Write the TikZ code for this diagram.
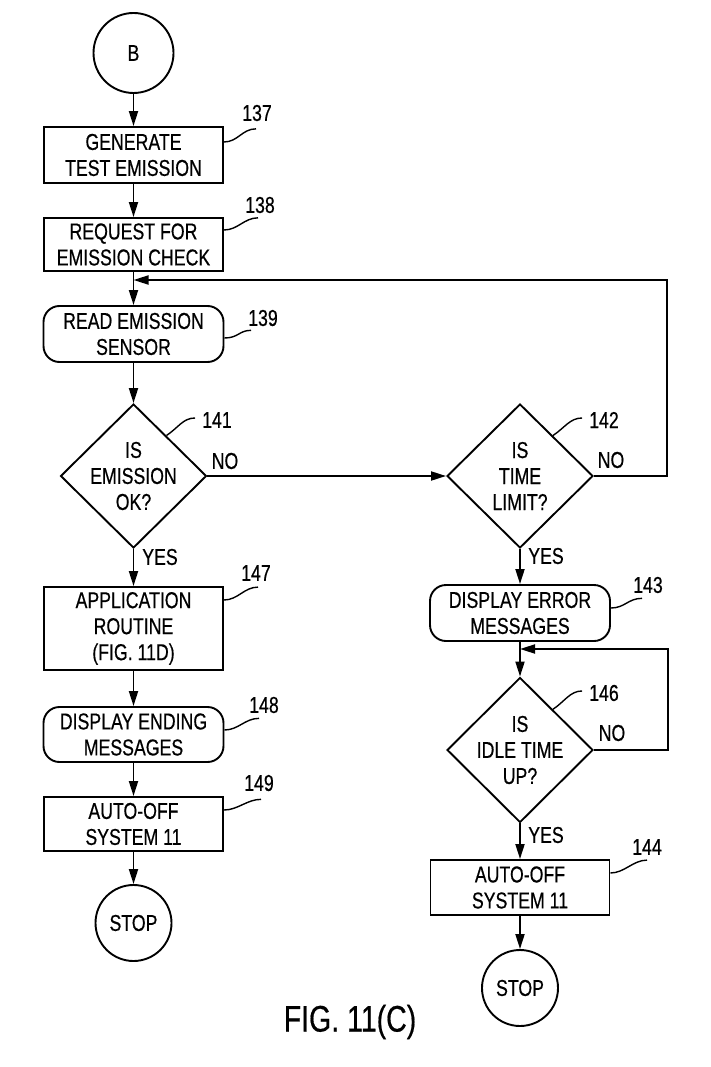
\documentclass[tikz,border=0pt]{standalone}
\usepackage{fontspec}
\setmainfont{Liberation Sans}[FakeStretch=0.77,FakeBold=0.5]
\usetikzlibrary{shapes.geometric,arrows.meta}
\begin{document}
\begin{tikzpicture}[x=1pt,y=-1pt,
  every node/.style={font=\fontsize{23}{26}\selectfont},
  base/.style={draw, line width=1.9pt, inner sep=0pt, align=center},
  proc/.style={base, rectangle, minimum width=179pt},
  rnd/.style={base, rectangle, rounded corners=16pt, minimum width=180pt},
  term/.style={base, circle},
  dec/.style={base, diamond, minimum width=146pt, minimum height=144pt},
  txt/.style={inner sep=0pt, align=center},
  flow/.style={line width=1.9pt, -{Triangle[length=15pt,width=9pt]}},
  leader/.style={line width=1.4pt},
]
\useasboundingbox (0,0) rectangle (710,1067);

% left column
\node[term, minimum size=80pt] (B) at (133.5,53) {B};
\node[proc, minimum height=56pt] (n137) at (133.5,155) {GENERATE\\TEST EMISSION};
\node[proc, minimum height=53pt] (n138) at (133.5,244.5) {REQUEST FOR\\EMISSION CHECK};
\node[rnd, minimum height=56pt] (n139) at (133.5,334) {READ EMISSION\\SENSOR};
\node[dec] (d141) at (133.5,476) {};
\node[txt] (t141) at (d141) {IS\\EMISSION\\OK?};
\node[proc, minimum height=83pt] (n147) at (133.5,628.5) {APPLICATION\\ROUTINE\\(FIG. 11D)};
\node[rnd, minimum height=55pt] (n148) at (133.5,734.5) {DISPLAY ENDING\\MESSAGES};
\node[proc, minimum height=54pt] (n149) at (133.5,824) {AUTO-OFF\\SYSTEM 11};
\node[term, minimum size=76pt] (stopL) at (133.5,923) {STOP};

% right column
\node[dec] (d142) at (520,476) {};
\node[txt] (t142) at (d142) {IS\\TIME\\LIMIT?};
\node[rnd, minimum height=56pt] (n143) at (520,613) {DISPLAY ERROR\\MESSAGES};
\node[dec, minimum height=145pt] (d146) at (520,750) {};
\node[txt] (t146) at (d146) {IS\\IDLE TIME\\UP?};
\node[proc, minimum height=55pt] (n144) at (520,887.5) {AUTO-OFF\\SYSTEM 11};
\node[term, minimum size=76pt] (stopR) at (520,988) {STOP};

% reference numerals
\node[txt] (l137) at (257,113) {137};
\node[txt] (l138) at (260,205) {138};
\node[txt] (l139) at (263,318) {139};
\node[txt] (l141) at (217,420) {141};
\node[txt] (l147) at (256,573) {147};
\node[txt] (l148) at (264,705) {148};
\node[txt] (l149) at (259,783) {149};
\node[txt] (l142) at (604,420) {142};
\node[txt] (l143) at (648,585) {143};
\node[txt] (l146) at (604,693) {146};
\node[txt] (l144) at (647,847) {144};

% branch labels
\node[txt] (no141) at (225,461) {NO};
\node[txt] (yes141) at (160,557) {YES};
\node[txt] (no142) at (611,460) {NO};
\node[txt] (yes142) at (546,556) {YES};
\node[txt] (no146) at (612,733) {NO};
\node[txt] (yes146) at (546,835) {YES};

% caption
\node[txt, font=\fontsize{37}{40}\selectfont] (cap) at (350,1022) {FIG. 11(C)};

% junctions and loop corners
\coordinate (j1) at (133.5,280);
\coordinate (c1) at (667,280);
\coordinate (j2) at (520,649);
\coordinate (c2) at (668,649);

% flow
\draw[flow] (B) -- (n137);
\draw[flow] (n137) -- (n138);
\draw[flow] (n138) -- (n139);
\draw[flow] (n139) -- (d141.north);
\draw[flow] (d141.east) -- (d142.west);
\draw[flow] (d141.south) -- (n147);
\draw[flow] (n147) -- (n148);
\draw[flow] (n148) -- (n149);
\draw[flow] (n149) -- (stopL);
\draw[flow] (d142.east) -| (c1) -- (j1);
\draw[flow] (d142.south) -- (n143);
\draw[flow] (n143) -- (d146.north);
\draw[flow] (d146.east) -| (c2) -- (j2);
\draw[flow] (d146.south) -- (n144);
\draw[flow] (n144) -- (stopR);

% leader lines
\draw[leader] ([yshift=13pt]n137.east) .. controls +(14,0) and +(-14,0) .. ([xshift=14pt,yshift=-7.5pt]l137.south west);
\draw[leader] ([yshift=14.5pt]n138.east) .. controls +(14,0) and +(-14,0) .. ([xshift=13pt,yshift=-4.5pt]l138.south west);
\draw[leader] ([yshift=-4pt]n139.east) .. controls +(14,0) and +(-12,0) .. ([xshift=3pt,yshift=-4pt]l139.south west);
\draw[leader] ([yshift=28.5pt]n147.east) .. controls +(14,0) and +(-14,0) .. ([xshift=17pt,yshift=-6pt]l147.south west);
\draw[leader] ([yshift=4.5pt]n148.east) .. controls +(14,0) and +(-14,0) .. ([xshift=10pt,yshift=-5pt]l148.south west);
\draw[leader] ([yshift=14pt]n149.east) .. controls +(14,0) and +(-14,0) .. ([xshift=17pt,yshift=-8pt]l149.south west);
\draw[leader] ([yshift=5pt]n143.east) .. controls +(14,0) and +(-14,0) .. ([xshift=9pt,yshift=-5pt]l143.south west);
\draw[leader] ([yshift=14.5pt]n144.east) .. controls +(14,0) and +(-14,0) .. ([xshift=15pt,yshift=-5pt]l144.south west);
\draw[leader] ([shift={(-4pt,4pt)}]d141.north east) .. controls +(12,-8) and +(-12,0) .. ([xshift=-7pt,yshift=2pt]l141.west);
\draw[leader] ([shift={(-4pt,4pt)}]d142.north east) .. controls +(12,-8) and +(-12,0) .. ([xshift=-7pt,yshift=2pt]l142.west);
\draw[leader] ([shift={(-4pt,4pt)}]d146.north east) .. controls +(12,-8) and +(-12,0) .. ([xshift=-7pt,yshift=2pt]l146.west);
\end{tikzpicture}
\end{document}
